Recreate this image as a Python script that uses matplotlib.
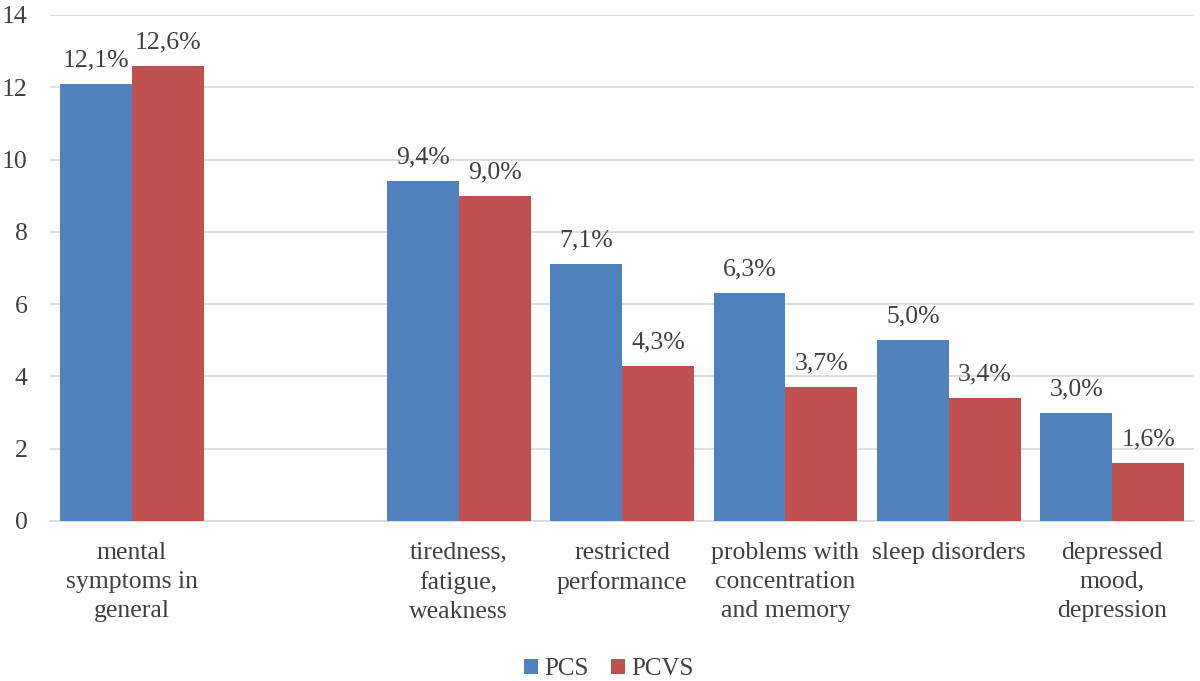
import matplotlib
matplotlib.use("Agg")
import matplotlib.pyplot as plt
import numpy as np

categories = ["mental\nsymptoms in\ngeneral", "", "tiredness,\nfatigue,\nweakness",
              "restricted\nperformance", "problems with\nconcentration\nand memory",
              "sleep disorders", "depressed\nmood,\ndepression"]
pcs = [12.1, np.nan, 9.4, 7.1, 6.3, 5.0, 3.0]
pcvs = [12.6, np.nan, 9.0, 4.3, 3.7, 3.4, 1.6]
pcs_labels = ["12,1%", "", "9,4%", "7,1%", "6,3%", "5,0%", "3,0%"]
pcvs_labels = ["12,6%", "", "9,0%", "4,3%", "3,7%", "3,4%", "1,6%"]
yticks = [0, 2, 4, 6, 8, 10, 12, 14]

plt.rcParams['font.family'] = ['Liberation Serif', 'DejaVu Serif']
text_color = "#404040"
fs = 18.5

fig = plt.figure(figsize=(12, 6.81), dpi=100)
ax = fig.add_axes([0.0417, 0.235, 0.9533, 0.743])

x = np.arange(len(categories))
w = 0.44
b1 = ax.bar(x - w/2, pcs, w, color="#4F81BD", label="PCS", zorder=3)
b2 = ax.bar(x + w/2, pcvs, w, color="#C0504D", label="PCVS", zorder=3)
ax.bar_label(b1, labels=pcs_labels, padding=9, fontsize=fs, color=text_color)
ax.bar_label(b2, labels=pcvs_labels, padding=9, fontsize=fs, color=text_color)

ax.set_xlim(-0.5, len(categories) - 0.5)
ax.set_ylim(0, 14)
ax.set_yticks(yticks)
ax.set_yticklabels([str(t) for t in yticks], fontsize=fs, color=text_color)
ax.set_xticks(x)
ax.set_xticklabels(categories, fontsize=fs, color=text_color, linespacing=1.42)
ax.tick_params(axis='both', length=0)
ax.tick_params(axis='x', pad=15)
ax.tick_params(axis='y', pad=16)
ax.yaxis.grid(True, color="#d9d9d9", linewidth=1.2, zorder=0)
for s in ["top", "right", "left"]:
    ax.spines[s].set_visible(False)
ax.spines["bottom"].set_color("#d9d9d9")
ax.spines["bottom"].set_linewidth(1.2)

fig.legend(handles=[b1, b2], labels=["PCS", "PCVS"], loc="center",
           bbox_to_anchor=(0.5075, 0.017), ncol=2, frameon=False, fontsize=18,
           handlelength=0.55, handleheight=0.55, handletextpad=0.25, columnspacing=0.9,
           labelcolor=text_color)

fig.savefig("out.png", dpi=100)
